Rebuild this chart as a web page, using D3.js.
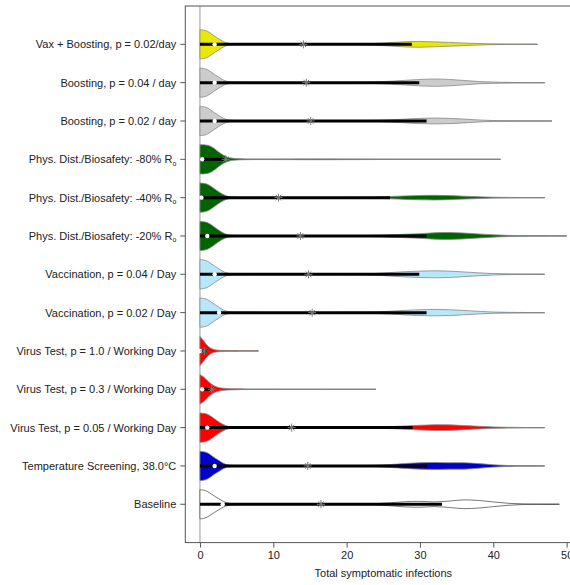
<!DOCTYPE html>
<html><head><meta charset="utf-8">
<script src="https://cdn.jsdelivr.net/npm/d3@7"></script>
<style>body{margin:0;background:#fff}svg{font-family:"Liberation Sans",Arial,sans-serif}</style>
</head><body><svg id="c" width="570" height="585"></svg>
<script>
// categories top to bottom
const categories = [
  "Vax + Boosting, p = 0.02/day",
  "Boosting, p = 0.04 / day",
  "Boosting, p = 0.02 / day",
  "Phys. Dist./Biosafety: -80% R0",
  "Phys. Dist./Biosafety: -40% R0",
  "Phys. Dist./Biosafety: -20% R0",
  "Vaccination, p = 0.04 / Day",
  "Vaccination, p = 0.02 / Day",
  "Virus Test, p = 1.0 / Working Day",
  "Virus Test, p = 0.3 / Working Day",
  "Virus Test, p = 0.05 / Working Day",
  "Temperature Screening, 38.0°C",
  "Baseline"
];
const fillColors = ["#e8e800","#cccccc","#cccccc","#006400","#006400","#006400","#b8e6fa","#b8e6fa","#ff0000","#ff0000","#ff0000","#0000cc","#ffffff"];
const medians = [2, 2, 2, 0.3, 0.2, 1, 2, 2.6, 0, 0.3, 1, 2, 3.1];
const means   = [14.1, 14.5, 15.1, 3.5, 10.7, 13.7, 14.8, 15.3, 0.6, 1.6, 12.5, 14.7, 16.5];
const q1s     = [0, 0, 0, 0, 0, 0, 0, 0, 0, 0, 0, 0, 0];
const q3s     = [28.9, 29.9, 30.9, 3.4, 25.9, 30.9, 29.9, 30.9, 1, 1.5, 29, 31, 33];
const maxima  = [46, 47, 48, 41, 47, 50, 47, 47, 8, 24, 47, 47, 49];
const xTicks  = [0, 10, 20, 30, 40, 50];

const gridX = [0,0.5,1,1.5,2,2.5,3,3.5,4,5,6,8,10,13,16,19,22,24,26,28,30,32,34,36,38,40,42,44,46,48,50];
// estimated relative violin half-widths at gridX
const densities = [
  [1,0.98,0.9,0.74,0.56,0.4,0.24,0.12,0.06,0.03,0.02,0.015,0.01,0.01,0.01,0.015,0.03,0.06,0.12,0.18,0.2,0.17,0.13,0.09,0.05,0.025,0.01,0.005,0.002,0,0],
  [1,0.98,0.9,0.74,0.56,0.4,0.24,0.12,0.06,0.03,0.02,0.015,0.01,0.01,0.01,0.015,0.025,0.05,0.1,0.16,0.22,0.25,0.22,0.15,0.08,0.04,0.02,0.01,0.005,0,0],
  [1,0.98,0.9,0.74,0.56,0.4,0.24,0.12,0.06,0.03,0.02,0.015,0.01,0.01,0.01,0.015,0.025,0.04,0.08,0.13,0.18,0.2,0.18,0.13,0.07,0.03,0.015,0.008,0.004,0.002,0],
  [1,1,0.97,0.88,0.72,0.52,0.34,0.2,0.11,0.05,0.03,0.02,0.02,0.025,0.03,0.025,0.02,0.015,0.01,0.008,0.006,0.005,0.004,0.003,0.003,0.002,0,0,0,0,0],
  [1,0.98,0.92,0.78,0.6,0.42,0.26,0.14,0.07,0.035,0.02,0.015,0.01,0.01,0.01,0.012,0.02,0.04,0.08,0.12,0.15,0.16,0.14,0.1,0.06,0.03,0.015,0.008,0.003,0,0],
  [1,0.98,0.92,0.78,0.6,0.42,0.26,0.14,0.07,0.035,0.02,0.015,0.01,0.01,0.01,0.012,0.025,0.05,0.08,0.12,0.16,0.22,0.24,0.2,0.14,0.08,0.04,0.02,0.01,0.004,0],
  [1,0.98,0.9,0.74,0.56,0.4,0.24,0.12,0.06,0.03,0.02,0.015,0.01,0.01,0.01,0.015,0.03,0.06,0.12,0.18,0.22,0.24,0.22,0.16,0.1,0.05,0.02,0.01,0.004,0,0],
  [1,0.98,0.9,0.74,0.56,0.4,0.24,0.12,0.06,0.03,0.02,0.015,0.01,0.01,0.01,0.015,0.025,0.05,0.1,0.16,0.2,0.22,0.2,0.15,0.09,0.04,0.02,0.01,0.004,0,0],
  [1,0.7,0.38,0.18,0.09,0.05,0.035,0.025,0.02,0.015,0.01,0,0,0,0,0,0,0,0,0,0,0,0,0,0,0,0,0,0,0,0],
  [1,0.85,0.6,0.38,0.22,0.13,0.08,0.06,0.045,0.03,0.02,0.012,0.008,0.005,0.004,0.003,0.002,0,0,0,0,0,0,0,0,0,0,0,0,0,0],
  [1,0.98,0.92,0.78,0.6,0.42,0.26,0.14,0.07,0.035,0.02,0.015,0.01,0.01,0.01,0.012,0.02,0.04,0.07,0.11,0.16,0.2,0.19,0.14,0.09,0.05,0.02,0.01,0.004,0,0],
  [1,0.98,0.9,0.74,0.56,0.4,0.24,0.12,0.06,0.03,0.02,0.015,0.01,0.01,0.01,0.015,0.03,0.05,0.1,0.17,0.22,0.24,0.22,0.22,0.16,0.08,0.03,0.01,0.004,0,0],
  [1,0.97,0.88,0.72,0.55,0.4,0.25,0.13,0.07,0.035,0.02,0.015,0.01,0.01,0.01,0.015,0.025,0.04,0.1,0.18,0.2,0.16,0.22,0.3,0.26,0.16,0.07,0.02,0.01,0.003,0]
];

const svg = d3.select("#c");
const x = d3.scaleLinear().domain([-2, 52]).range([185.3, 581.3]);
const y = d3.scaleLinear().domain([0, 14]).range([542.6, 6]);
const pos = i => categories.length - i; // top category at 13
const halfW = 0.38;

// vertical reference line at 0
svg.append("line").attr("x1", x(0)).attr("x2", x(0)).attr("y1", y(14)).attr("y2", y(0))
  .attr("stroke", "#9a9a9a").attr("stroke-width", 1);

const area = d3.area().curve(d3.curveCatmullRom.alpha(0.5))
  .x(d => x(d[0])).y0(d => d[2] - d[1]).y1(d => d[2] + d[1]);

categories.forEach((c, i) => {
  const cy = y(pos(i));
  const pxPerUnit = y(0) - y(halfW);
  const pts = [];
  gridX.forEach((gx, k) => { if (gx < maxima[i]) pts.push([gx, densities[i][k] * pxPerUnit, cy]); });
  pts.push([maxima[i], 0, cy]);
  const g = svg.append("g");
  // whisker thin line
  g.append("line").attr("x1", x(0)).attr("x2", x(maxima[i])).attr("y1", cy).attr("y2", cy)
    .attr("stroke", "#777").attr("stroke-width", 1.2);
  g.append("path").attr("d", area(pts)).attr("fill", fillColors[i])
    .attr("stroke", i === 12 ? "#555" : "#888").attr("stroke-width", 0.8);
  // box (q1 - q3)
  g.append("line").attr("x1", x(q1s[i])).attr("x2", x(q3s[i])).attr("y1", cy).attr("y2", cy)
    .attr("stroke", "#000").attr("stroke-width", 3);
  // median
  g.append("circle").attr("cx", x(medians[i])).attr("cy", cy).attr("r", 2.2).attr("fill", "#fff");
  // mean asterisk
  const mx = x(means[i]), s = 4;
  const star = g.append("g").attr("stroke", "#7a7a7a").attr("stroke-width", 1);
  star.append("line").attr("x1", mx - s).attr("x2", mx + s).attr("y1", cy).attr("y2", cy);
  star.append("line").attr("x1", mx).attr("x2", mx).attr("y1", cy - s).attr("y2", cy + s);
  star.append("line").attr("x1", mx - s * 0.7).attr("x2", mx + s * 0.7).attr("y1", cy - s * 0.7).attr("y2", cy + s * 0.7);
  star.append("line").attr("x1", mx - s * 0.7).attr("x2", mx + s * 0.7).attr("y1", cy + s * 0.7).attr("y2", cy - s * 0.7);
});

// frame
svg.append("rect").attr("x", x(-2)).attr("y", y(14)).attr("width", x(52) - x(-2)).attr("height", y(0) - y(14))
  .attr("fill", "none").attr("stroke", "#555").attr("stroke-width", 1);

// y axis ticks and labels
categories.forEach((c, i) => {
  const cy = y(pos(i));
  svg.append("line").attr("x1", x(-2) - 5).attr("x2", x(-2)).attr("y1", cy).attr("y2", cy).attr("stroke", "#555");
  const t = svg.append("text").attr("x", x(-2) - 9).attr("y", cy + 4).attr("text-anchor", "end")
    .attr("font-size", 11).attr("fill", "#222");
  if (c.endsWith(" R0")) {
    t.append("tspan").text(c.slice(0, -1));
    t.append("tspan").attr("font-size", 7).attr("dy", 2.5).text("o");
  } else t.text(c);
});

// x axis
const xAxis = d3.axisBottom(x).tickValues(xTicks).tickSize(5).tickPadding(4);
const ga = svg.append("g").attr("transform", `translate(0,${y(0)})`).call(xAxis);
ga.select(".domain").remove();
ga.selectAll("line").attr("stroke", "#555");
ga.selectAll("text").attr("font-size", 11).attr("fill", "#222").attr("font-family", "Liberation Sans, Arial, sans-serif");

svg.append("text").attr("x", (x(-2) + x(52)) / 2).attr("y", 577).attr("text-anchor", "middle")
  .attr("font-size", 11).attr("fill", "#222").text("Total symptomatic infections");
</script></body></html>
